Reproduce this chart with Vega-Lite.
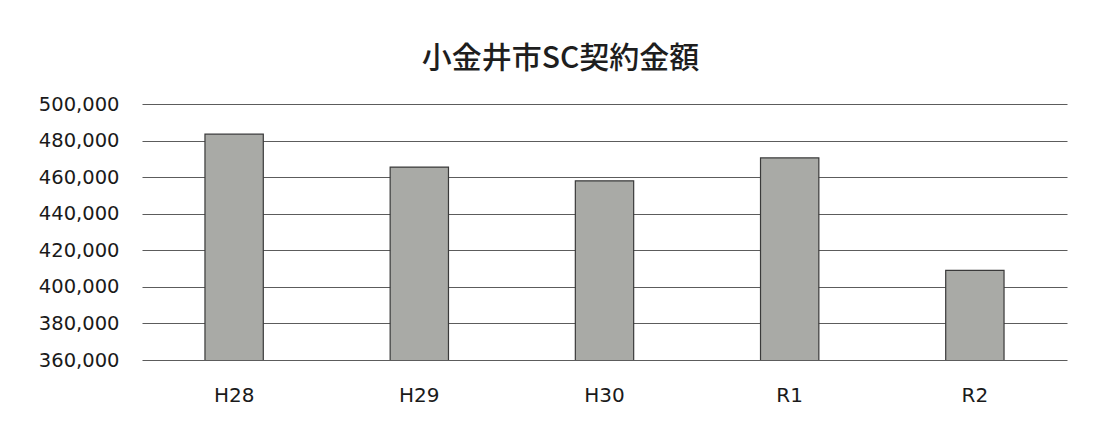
{
  "$schema": "https://vega.github.io/schema/vega-lite/v6.json",
  "autosize": "none",
  "width": 925,
  "height": 256,
  "padding": {"left": 142, "top": 104, "right": 31, "bottom": 70},
  "background": "white",
  "title": {
    "text": "小金井市SC契約金額",
    "font": "Noto Sans CJK JP",
    "fontSize": 30,
    "fontWeight": 500,
    "color": "#1e1e1e",
    "anchor": "middle",
    "dx": -44,
    "offset": 20
  },
  "data": {
    "values": [
      {"year": "H28", "amount": 483500},
      {"year": "H29", "amount": 465500},
      {"year": "H30", "amount": 458000},
      {"year": "R1", "amount": 470500},
      {"year": "R2", "amount": 409000}
    ]
  },
  "mark": {"type": "bar", "color": "#a9aaa6", "stroke": "#3a3a3a", "strokeWidth": 1.2, "clip": true},
  "encoding": {
    "x": {
      "field": "year",
      "type": "nominal",
      "sort": null,
      "scale": {"paddingInner": 0.685, "paddingOuter": 0.34},
      "axis": {
        "title": null,
        "labelAngle": 0,
        "labelFont": "DejaVu Sans",
        "labelFontSize": 20,
        "labelColor": "#1a1a1a",
        "labelPadding": 25,
        "ticks": false,
        "domain": false
      }
    },
    "y": {
      "field": "amount",
      "type": "quantitative",
      "scale": {"domain": [360000, 500000], "zero": false, "nice": false},
      "axis": {
        "title": null,
        "values": [360000, 380000, 400000, 420000, 440000, 460000, 480000, 500000],
        "format": ",d",
        "labelFont": "DejaVu Sans",
        "labelFontSize": 19.5,
        "labelColor": "#1a1a1a",
        "labelPadding": 23,
        "ticks": false,
        "domain": false,
        "grid": true,
        "gridColor": "#333333",
        "gridWidth": 1,
        "gridOpacity": 0.8
      }
    }
  },
  "config": {"view": {"stroke": null}}
}
